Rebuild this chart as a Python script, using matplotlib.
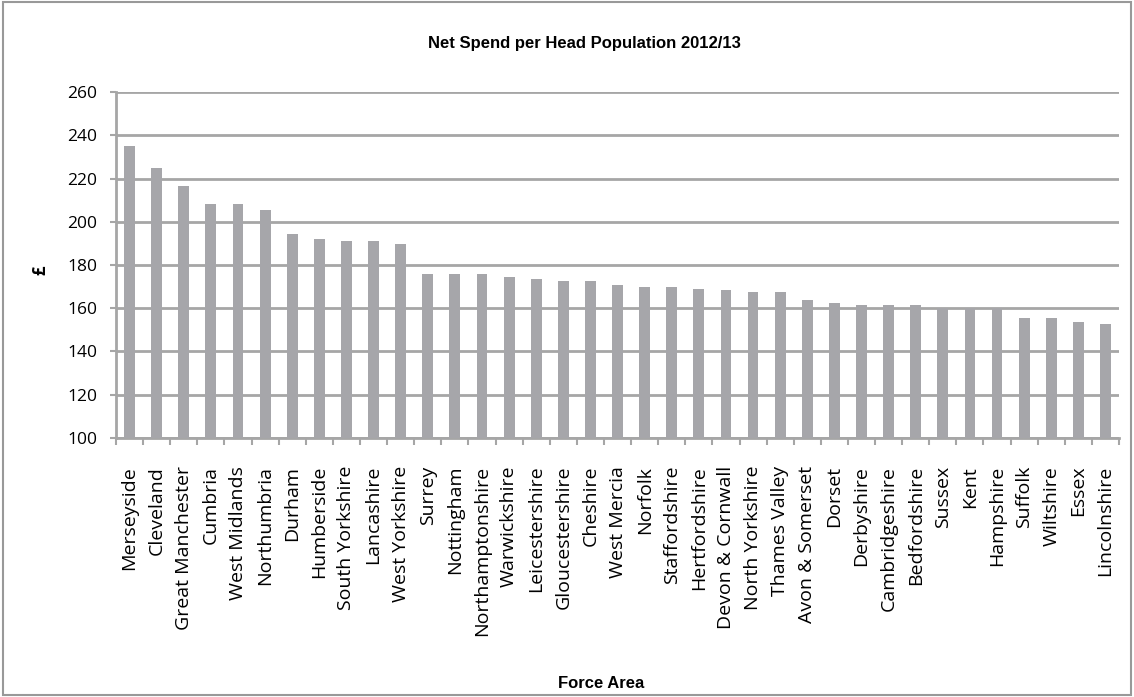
import matplotlib
matplotlib.use("Agg")
import matplotlib.pyplot as plt
from matplotlib.patches import Rectangle

forces = ['Merseyside', 'Cleveland', 'Great Manchester', 'Cumbria', 'West Midlands',
          'Northumbria', 'Durham', 'Humberside', 'South Yorkshire', 'Lancashire',
          'West Yorkshire', 'Surrey', 'Nottingham', 'Northamptonshire', 'Warwickshire',
          'Leicestershire', 'Gloucestershire', 'Cheshire', 'West Mercia', 'Norfolk',
          'Staffordshire', 'Hertfordshire', 'Devon & Cornwall', 'North Yorkshire',
          'Thames Valley', 'Avon & Somerset', 'Dorset', 'Derbyshire', 'Cambridgeshire',
          'Bedfordshire', 'Sussex', 'Kent', 'Hampshire', 'Suffolk', 'Wiltshire',
          'Essex', 'Lincolnshire']
spend = [235.0, 225.0, 216.7, 208.0, 208.0, 205.5, 194.5, 191.8, 190.9, 190.9,
         189.5, 175.7, 175.7, 175.7, 174.3, 173.4, 172.4, 172.4, 170.6, 169.7,
         169.7, 168.8, 168.3, 167.4, 167.4, 163.7, 162.3, 161.4, 161.4, 161.4,
         160.2, 160.2, 160.2, 155.4, 155.4, 153.5, 152.6]
yticks = list(range(100, 261, 20))

grey = '#A6A6A6'
bar_col = '#A6A6AA'
font = ['Open Sans', 'DejaVu Sans']
narrow = ['Liberation Sans Narrow', 'Liberation Sans', 'DejaVu Sans']

fig = plt.figure(figsize=(11.34, 6.97), dpi=100)
ax = fig.add_axes([0.1023, 0.3716, 0.8845, 0.4964])

x = range(len(forces))
ax.bar(x, spend, width=0.4, color=bar_col, zorder=3)

ax.set_ylim(100, 260)
ax.set_xlim(-0.5, len(forces) - 0.5)
ax.set_yticks(yticks)
ax.set_yticklabels([str(t) for t in yticks], family=font, fontsize=12.5)
ax.yaxis.grid(True, color=grey, linewidth=2, zorder=0)
ax.set_axisbelow(True)

ax.set_xticks(list(x))
ax.set_xticklabels(forces, rotation=90, family=font, fontsize=14)
ax.set_xticks([i + 0.5 for i in range(-1, len(forces))], minor=True)
ax.tick_params(axis='x', which='major', length=0, pad=20)
ax.tick_params(axis='x', which='minor', length=5, width=1.5, color=grey, direction='out')
ax.tick_params(axis='y', length=4.5, width=1.5, color=grey, pad=9)

for s in ['top', 'right']:
    ax.spines[s].set_visible(False)
for s in ['left', 'bottom']:
    ax.spines[s].set_color(grey)
    ax.spines[s].set_linewidth(2)

fig.text(0.515, 0.938, 'Net Spend per Head Population 2012/13', ha='center', va='center',
         family=narrow, fontweight='bold', fontsize=12)
fig.text(0.036, 0.612, '£', ha='center', va='center', rotation=90,
         family=font, fontweight='bold', fontsize=12)
fig.text(0.53, 0.02, 'Force Area', ha='center', va='center',
         family=narrow, fontweight='bold', fontsize=12)

fig.patches.append(Rectangle((0.003, 0.003), 0.994, 0.994, transform=fig.transFigure,
                             fill=False, edgecolor='#999999', linewidth=1.5))

fig.savefig('out.png', dpi=100)
